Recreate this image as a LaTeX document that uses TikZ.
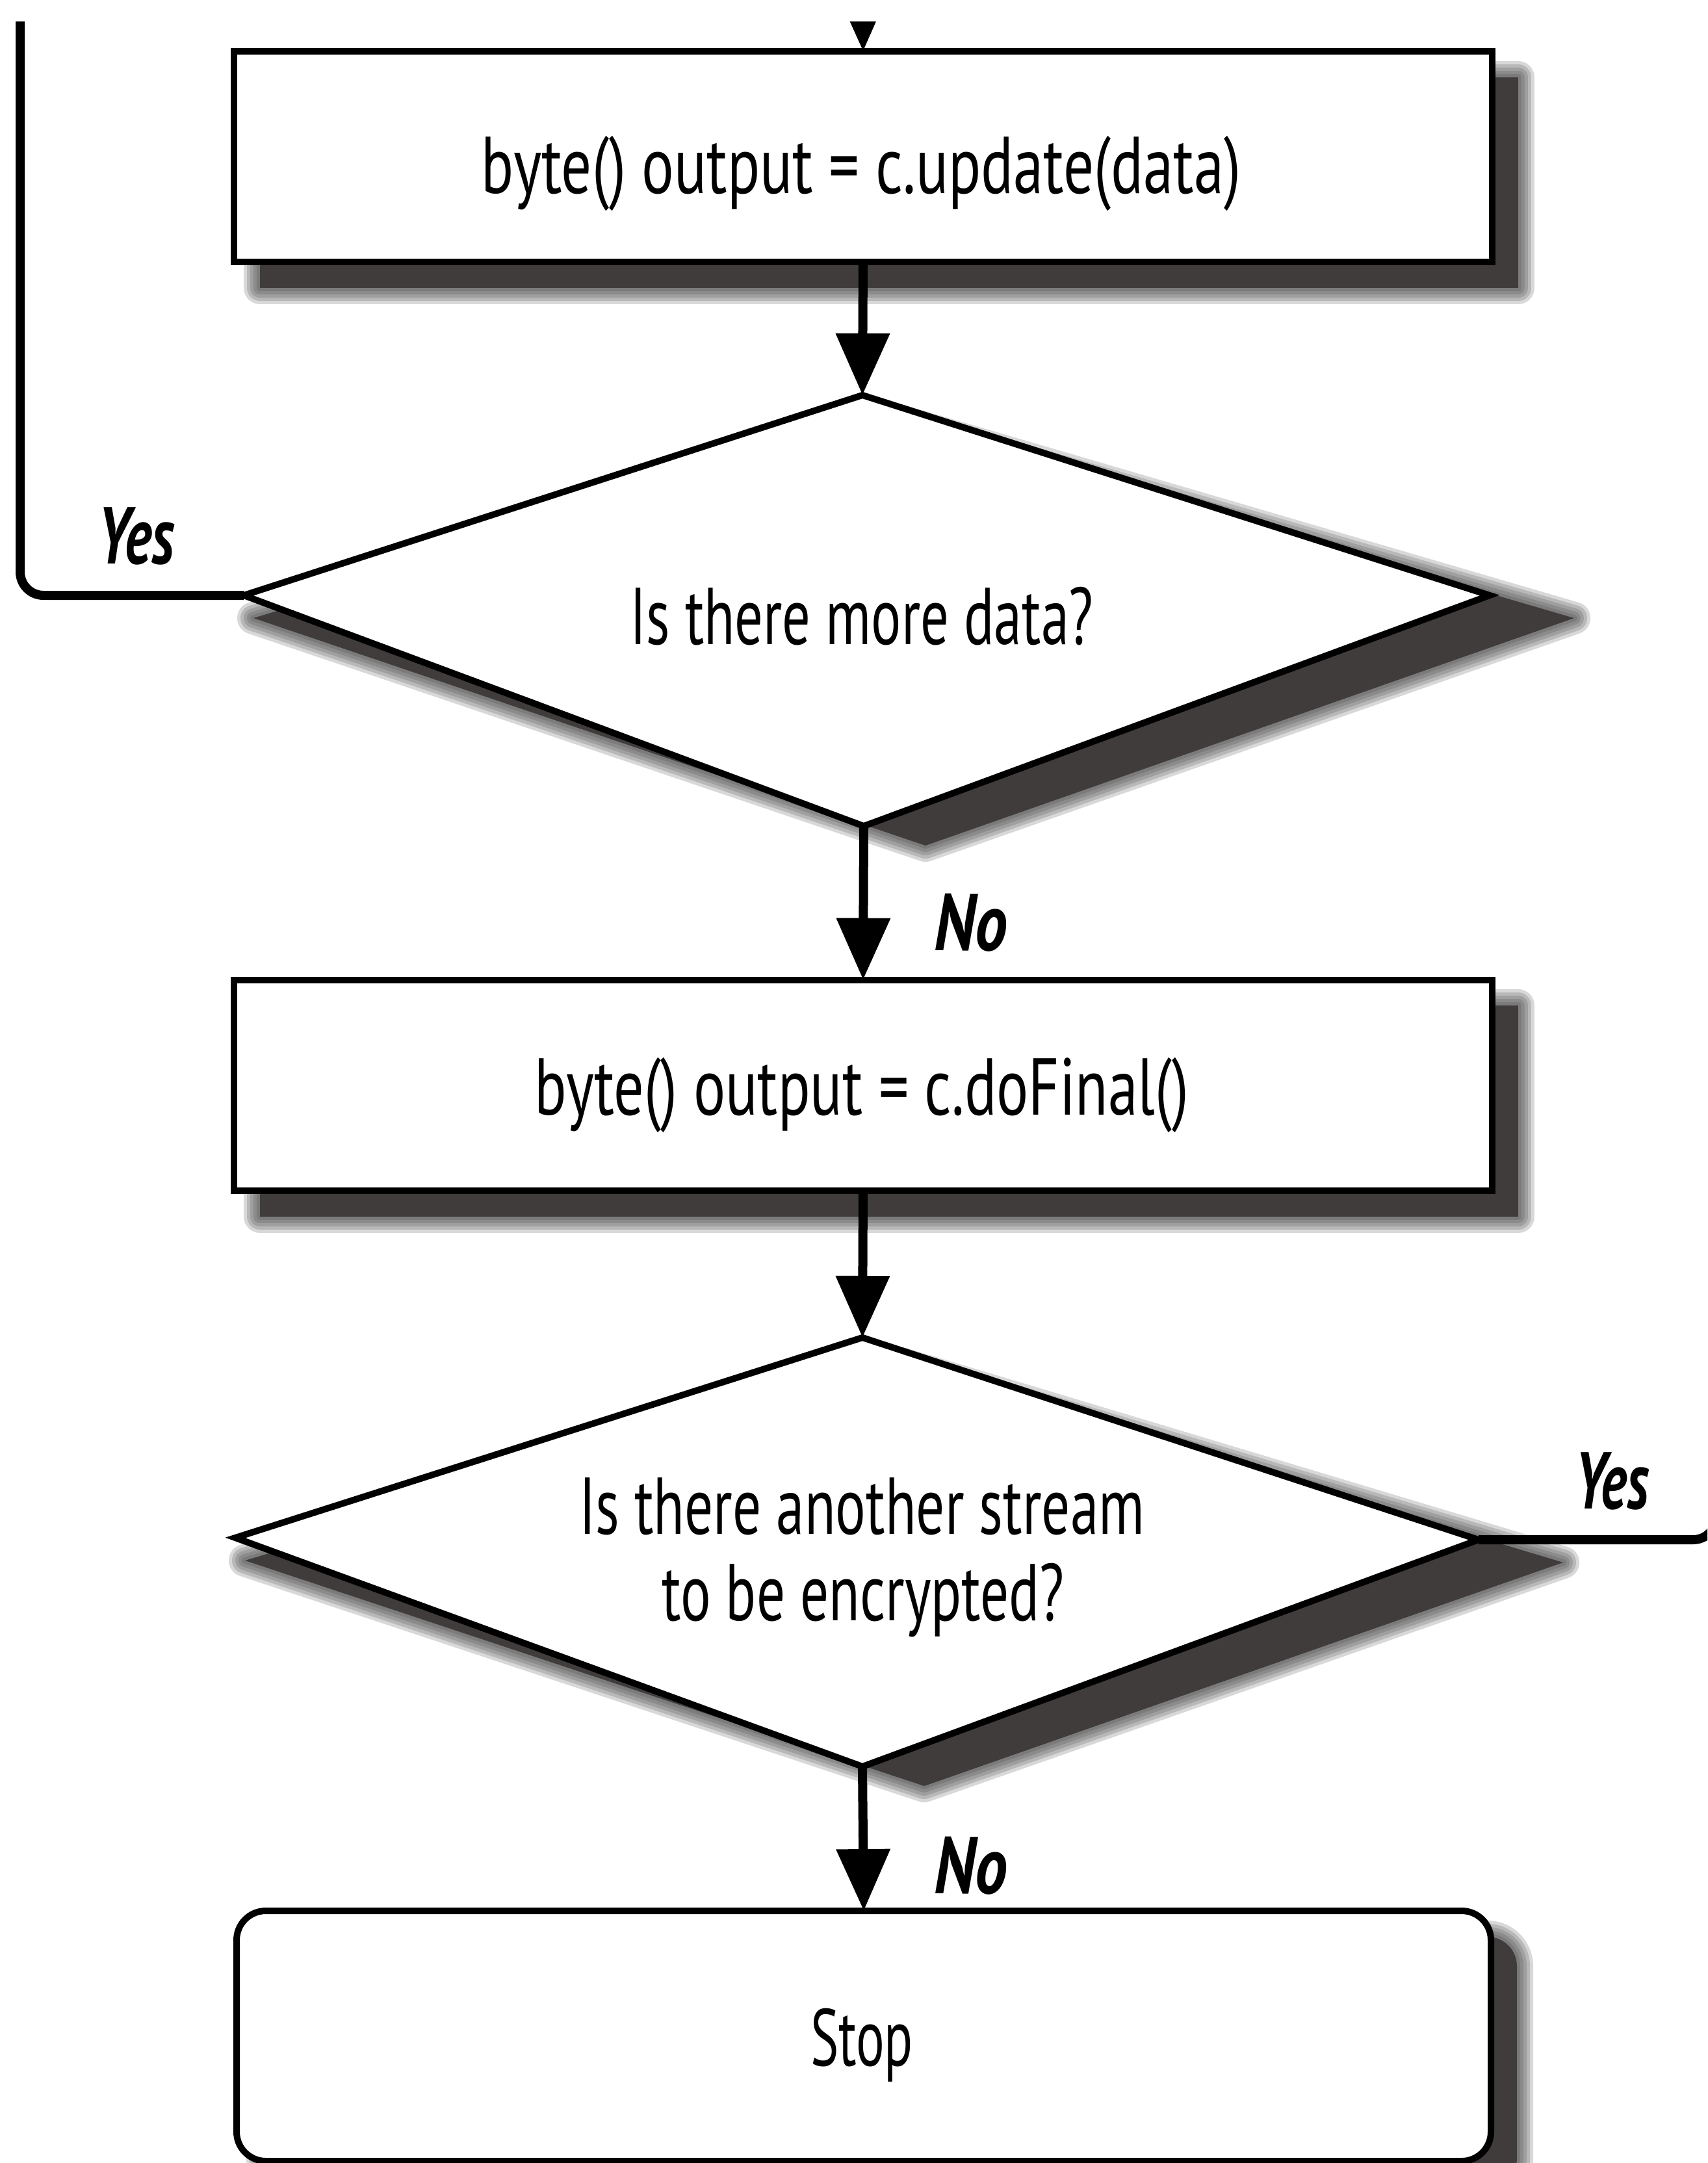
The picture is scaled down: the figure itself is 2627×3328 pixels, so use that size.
\documentclass[tikz,border=0pt]{standalone}
\usepackage{fontspec}
\setmainfont{PT Sans}
\usepackage{graphicx}
\usetikzlibrary{arrows.meta,calc}

\definecolor{shadowc}{RGB}{64,60,60}

% squeeze a label horizontally to a given width, keeping its height
\newcommand\fitw[2]{\resizebox{#1}{\height}{#2}}

% soft drop shadow: faint wide strokes around a solid core
\newcommand\softshadow[1]{%
  \foreach \w in {50,40,30,20,10}{%
    \path[draw=shadowc, draw opacity=0.2, line width=\w pt, line join=round] #1;}%
  \path[fill=shadowc] #1;}

\begin{document}
\begin{tikzpicture}[x=1pt,y=-1pt,
  every node/.style={inner sep=0pt, outer sep=0pt},
  procbox/.style={draw=black, fill=white, line width=10pt,
    minimum width=1936pt, minimum height=324pt},
  stopbox/.style={draw=black, fill=white, line width=10pt, rounded corners=45pt,
    minimum width=1930pt, minimum height=385pt},
  decision/.style={draw=black, fill=white, line width=10pt, line join=miter},
  conn/.style={draw=black, line width=14pt},
  flow/.style={conn, -{Triangle[length=95pt,width=80pt]}},
  txt/.style={font=\fontsize{124}{134}\selectfont, anchor=base},
  answer/.style={font=\fontsize{124}{134}\selectfont\bfseries\itshape, anchor=base}]

\useasboundingbox (0,0) rectangle (2627,3328);
\clip (0,0) rectangle (2627,3328);
\fill[white] (0,0) rectangle (2627,3328);

% corner points of the two decisions
\coordinate (d1n) at (1327,608);
\coordinate (d1e) at (2292,916);
\coordinate (d1s) at (1329,1271);
\coordinate (d1w) at (375,916);
\coordinate (d2n) at (1327,2058);
\coordinate (d2e) at (2275,2369);
\coordinate (d2s) at (1327,2718);
\coordinate (d2w) at (362,2366);

% shadows
\softshadow{(400,119) rectangle (2336,443)}
\softshadow{(400,1547) rectangle (2336,1872)}
\softshadow{[rounded corners=45pt] (404,2980) rectangle (2334,3365)}
\softshadow{($(d1w)+(15,35)$) -- ($(d1n)+(60,40)$) -- ($(d1e)+(130,35)$) -- ($(d1s)+(95,30)$) -- cycle}
\softshadow{($(d2w)+(15,35)$) -- ($(d2n)+(60,40)$) -- ($(d2e)+(130,35)$) -- ($(d2s)+(95,30)$) -- cycle}

% shapes
\node[procbox] (b1) at (1328,241) {};
\draw[decision] (d1n) -- (d1e) -- (d1s) -- (d1w) -- cycle;
\node[procbox] (b2) at (1328,1669.5) {};
\draw[decision] (d2n) -- (d2e) -- (d2s) -- (d2w) -- cycle;
\node[stopbox] (stop) at (1329,3132.5) {};

% texts
\node[txt] (t1) at (1325,297) {\fitw{1168pt}{byte() output = c.update(data)}};
\node[txt] (t2) at (1326,991) {\fitw{713pt}{Is there more data?}};
\node[txt] (t3) at (1326,1715) {\fitw{1006pt}{byte() output = c.doFinal()}};
\node[txt] (t4) at (1326,2360) {\fitw{870pt}{Is there another stream}};
\node[txt] (t5) at (1328,2493) {\fitw{619pt}{to be encrypted?}};
\node[txt] (t6) at (1326,3178) {\fitw{158pt}{Stop}};

\node[answer] (yes1) at (209,867) {\fitw{118pt}{Yes}};
\node[answer] (no1) at (1494,1462) {\fitw{113pt}{No}};
\node[answer] (yes2) at (2480,2321) {\fitw{114pt}{Yes}};
\node[answer] (no2) at (1494,2913) {\fitw{113pt}{No}};

% connectors
\coordinate (entry) at (1327,-150);
\coordinate (loopup) at (31,-100);
\coordinate (loopout) at (2641,2000);
\begin{scope}
  \clip (0,33) rectangle (2627,3328);
  \draw[flow] (entry) -- (b1.north);
  \draw[conn, rounded corners=36pt] (d1w) -- (d1w -| loopup) -- (loopup);
\end{scope}
\draw[flow] (b1.south) -- (d1n);
\draw[flow] (d1s) -- (b2.north);
\draw[flow] (b2.south) -- (d2n);
\draw[flow] (d2s) -- (stop.north);
\draw[conn, rounded corners=36pt] (d2e) -- (d2e -| loopout) -- (loopout);
\end{tikzpicture}
\end{document}
